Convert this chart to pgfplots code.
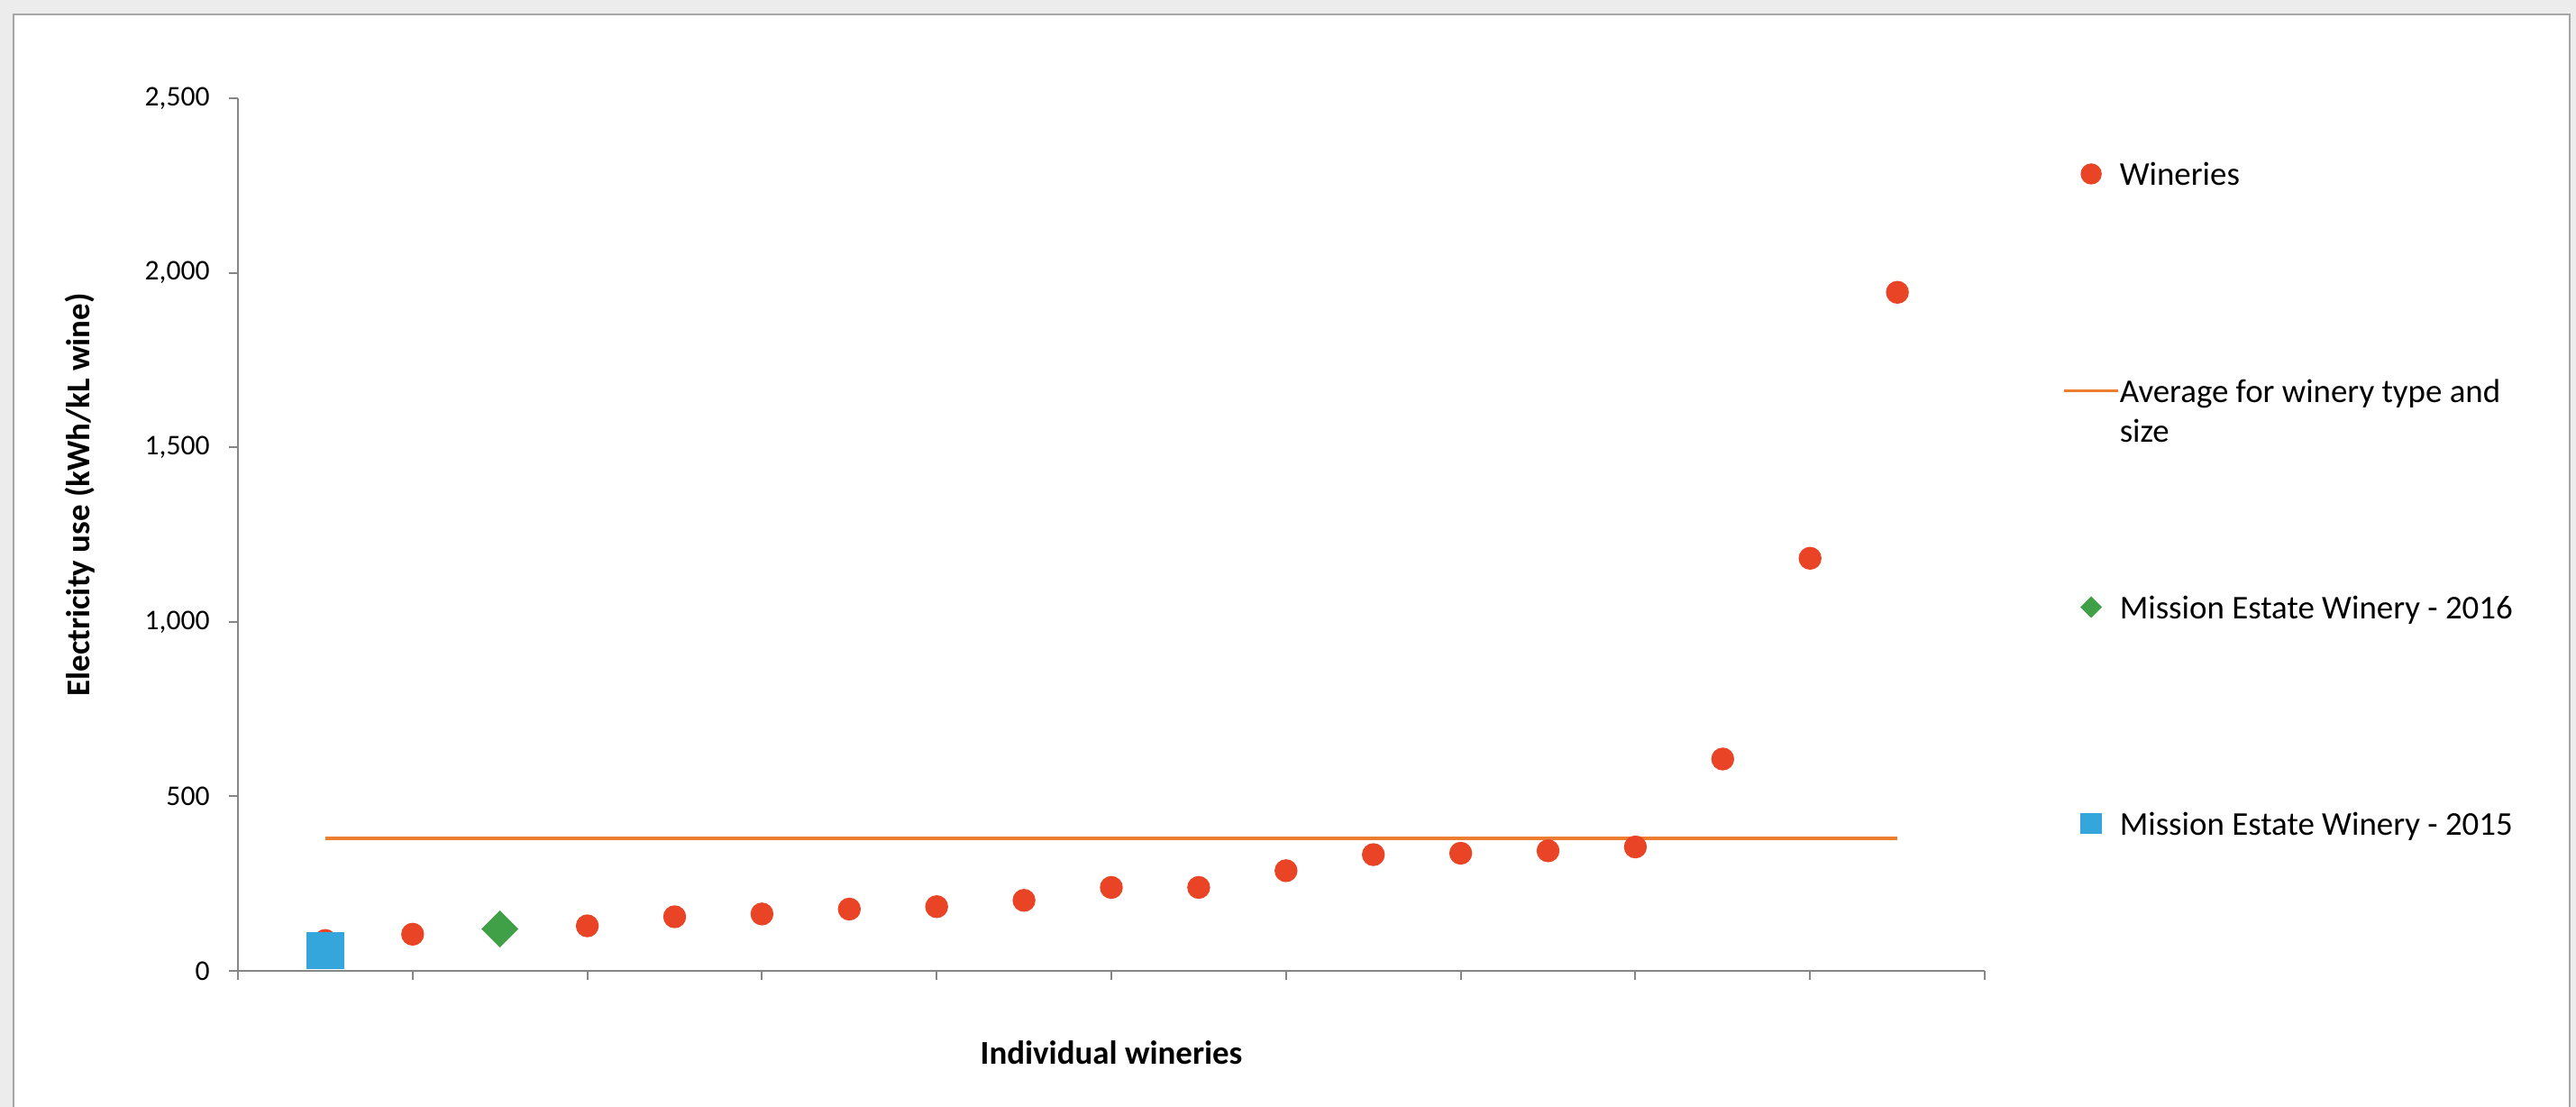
\documentclass[border=0pt]{standalone}
\usepackage{fontspec}
\setmainfont{Carlito}
\usepackage{pgfplots}
\pgfplotsset{compat=1.18}

\definecolor{dotred}{RGB}{233,68,38}
\definecolor{avgorange}{RGB}{237,125,49}
\definecolor{mgreen}{RGB}{64,160,72}
\definecolor{mblue}{RGB}{52,166,220}
\definecolor{axgray}{RGB}{134,134,134}
\definecolor{pagegray}{RGB}{236,236,236}
\definecolor{framegray}{RGB}{165,165,165}

\newcommand{\chartfont}{\fontsize{10.5}{12.6}\selectfont}
\newcommand{\tickfont}{\fontsize{9}{10.8}\selectfont}

\begin{document}
\begin{tikzpicture}[x=1cm,y=1cm]
\useasboundingbox (0,0) rectangle (28.58,12.28);
\fill[pagegray] (0,0) rectangle (28.58,12.28);
\filldraw[fill=white, draw=framegray, line width=0.6pt] (0.15,-0.5) rectangle (28.51,12.12);
\begin{axis}[
  at={(2.64cm,1.51cm)}, anchor=south west,
  width=19.38cm, height=9.68cm, scale only axis,
  xmin=0, xmax=20, ymin=0, ymax=2500,
  axis x line*=bottom, axis y line*=left,
  axis line style={axgray, line width=0.6pt},
  xtick={0,2,...,20}, xticklabels={},
  ytick={0,500,...,2500},
  tick align=outside, major tick length=0.1cm,
  tick style={axgray, line width=0.6pt},
  tick label style={font=\tickfont},
  yticklabel style={xshift=-0.09cm},
  /pgf/number format/assume math mode=true,
  /pgf/number format/1000 sep={,},
  scaled y ticks=false,
  clip=false,
  xlabel={Individual wineries},
  ylabel={Electricity use (kWh/kL wine)},
  every axis x label/.style={at={([yshift=-0.91cm]rel axis cs:0.5,0)}, anchor=center, font=\bfseries\chartfont},
  every axis y label/.style={at={([xshift=-1.75cm,yshift=0.44cm]rel axis cs:0,0.5)}, anchor=center, rotate=90, font=\bfseries\chartfont},
  legend cell align=left,
  legend style={draw=none, fill=none, at={(axis description cs:1.0446,0.932)}, anchor=north west,
    inner sep=0pt, outer sep=0pt, row sep=2.04cm, column sep=0cm, font=\chartfont,
    nodes={inner sep=0pt}},
]
% benchmark average for the winery type and size (drawn beneath the points)
\addplot[avgorange, line width=0.95pt, no marks, forget plot] coordinates {(1,380) (19,380)};

% individual wineries, sorted by electricity intensity
\addplot[only marks, mark=*, mark size=0.12cm, color=dotred,
  legend image post style={mark size=0.11cm}] coordinates {
  (1,87) (2,105) (4,129) (5,155) (6,163) (7,177) (8,184) (9,202) (10,239)
  (11,239) (12,287) (13,333) (14,337) (15,344) (16,355) (17,607) (18,1182) (19,1944)
};
\addlegendentry{Wineries\strut}

\addlegendimage{avgorange, line width=0.95pt}
\addlegendentry{\smash{\vtop{\hbox{\strut Average for winery type and}\hbox{\strut size}}}\strut}

\addplot[only marks, mark=square*, mark size=0.138cm, mark options={rotate=45}, color=mgreen,
  legend image post style={mark size=0.078cm}] coordinates {(3,120)};
\addlegendentry{Mission Estate Winery - 2016\strut}

\addplot[only marks, mark=square*, mark size=0.2cm, color=mblue,
  legend image post style={mark size=0.11cm}] coordinates {(1,58)};
\addlegendentry{Mission Estate Winery - 2015\strut}
\end{axis}
\end{tikzpicture}
\end{document}
